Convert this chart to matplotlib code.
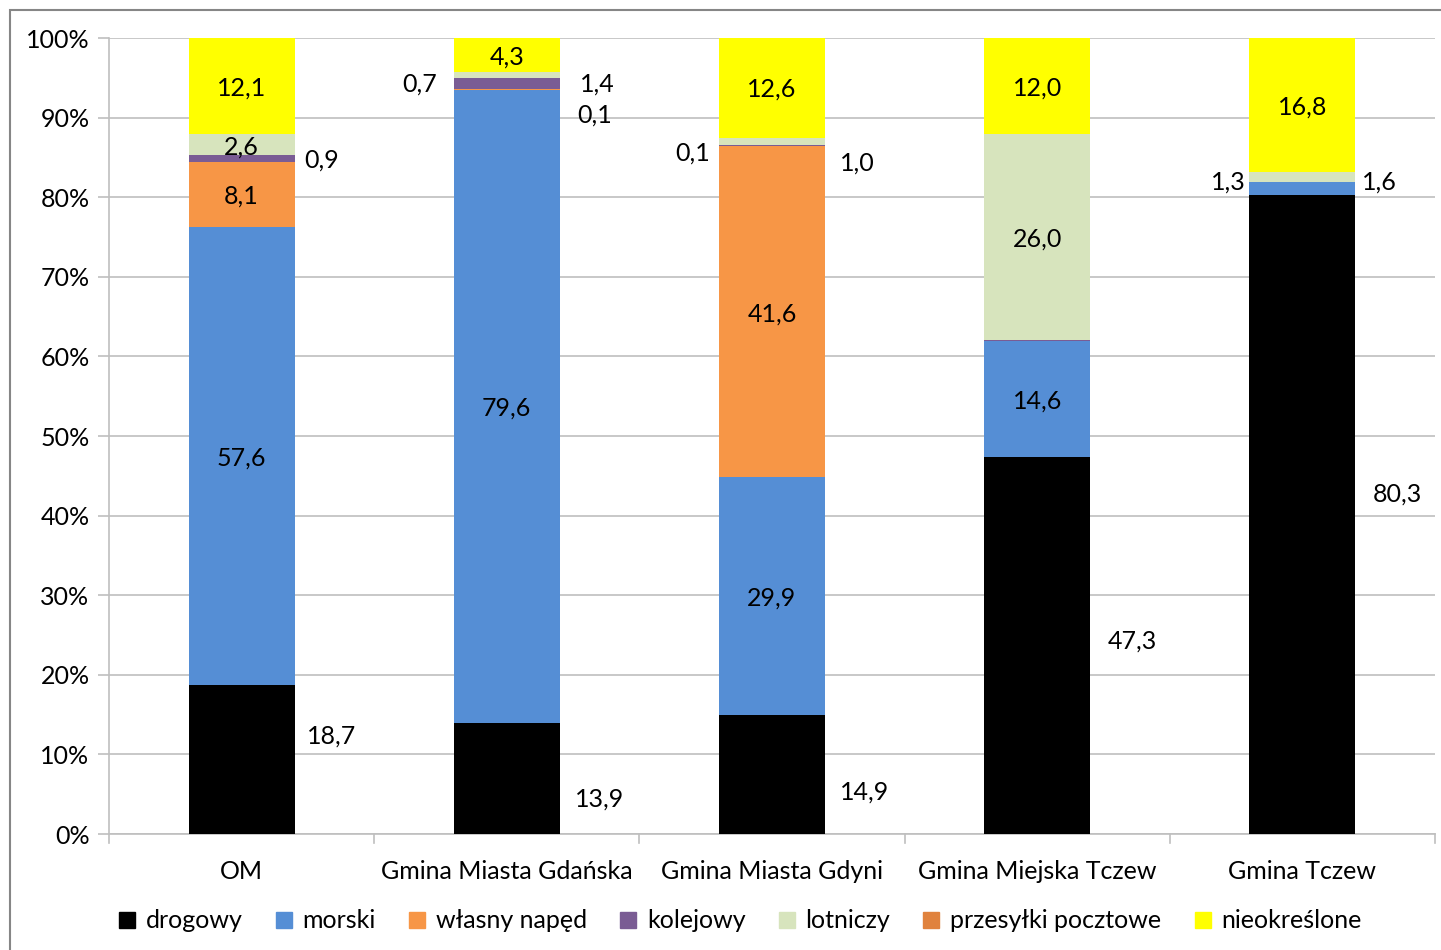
import matplotlib
matplotlib.use("Agg")
import matplotlib.pyplot as plt
import numpy as np
from matplotlib.patches import Rectangle
from matplotlib.lines import Line2D

plt.rcParams["font.family"] = ["Lato", "DejaVu Sans"]

categories = ["OM", "Gmina Miasta Gdańska", "Gmina Miasta Gdyni",
              "Gmina Miejska Tczew", "Gmina Tczew"]
series = ["drogowy", "morski", "własny napęd", "kolejowy", "lotniczy",
          "przesyłki pocztowe", "nieokreślone"]
colors = ["#000000", "#558ED5", "#F79646", "#7A5C94", "#D7E4BD",
          "#E0823D", "#FFFF00"]

# shares in % per category, one list per transport mode
drogowy = [18.7, 13.9, 14.9, 47.3, 80.3]
morski = [57.6, 79.6, 29.9, 14.6, 1.6]
wlasny_naped = [8.1, 0.1, 41.6, 0.0, 0.0]
kolejowy = [0.9, 1.4, 0.1, 0.1, 0.0]
lotniczy = [2.6, 0.7, 1.0, 26.0, 1.3]
przesylki = [0.0, 0.0, 0.0, 0.0, 0.0]
nieokreslone = [12.1, 4.3, 12.6, 12.0, 16.8]

values = np.array([drogowy, morski, wlasny_naped, kolejowy, lotniczy,
                   przesylki, nieokreslone])

# labels drawn inside the bar: (category, series)
inside = [(0, 1), (0, 2), (0, 4), (0, 6),
          (1, 1), (1, 6),
          (2, 1), (2, 2), (2, 6),
          (3, 1), (3, 4), (3, 6),
          (4, 6)]
# labels drawn beside the bar: (category, series, x offset, y in %)
beside = [(0, 0, 0.34, 12.3), (0, 3, 0.30, 84.7),
          (1, 0, 0.35, 4.4), (1, 4, -0.33, 94.2), (1, 3, 0.34, 94.2),
          (1, 2, 0.33, 90.3),
          (2, 0, 0.35, 5.3), (2, 3, -0.30, 85.6), (2, 4, 0.32, 84.3),
          (3, 0, 0.36, 24.2),
          (4, 0, 0.36, 42.7), (4, 4, -0.28, 81.9), (4, 1, 0.29, 81.9)]

FS = 18


def fmt(v):
    return f"{v:.1f}".replace(".", ",")


fig = plt.figure(figsize=(14.41, 9.5), dpi=100)
ax = fig.add_axes([109 / 1441, 1 - 834 / 950, (1435 - 109) / 1441,
                   (834 - 38) / 950])

x = np.arange(len(categories))
bottoms = np.zeros(len(categories))
for vals, color, name in zip(values, colors, series):
    ax.bar(x, vals, width=0.4, bottom=bottoms, color=color, label=name,
           zorder=3)
    bottoms = bottoms + vals

cum = np.vstack([np.zeros(len(categories)), np.cumsum(values, axis=0)])
for c, s in inside:
    y = (cum[s, c] + cum[s + 1, c]) / 2 - 0.25
    ax.text(c, y, fmt(values[s, c]), ha="center", va="center",
            fontsize=FS, zorder=4)
for c, s, dx, y in beside:
    ax.text(c + dx, y, fmt(values[s, c]), ha="center", va="center",
            fontsize=FS, zorder=4)

ax.set_xlim(-0.5, len(categories) - 0.5)
ax.set_ylim(0, 100)
ax.set_yticks(np.arange(0, 101, 10))
ax.set_yticklabels([f"{t}%" for t in range(0, 101, 10)], fontsize=FS)
ax.yaxis.grid(True, color="#BFBFBF", linewidth=1.2, zorder=0)
ax.set_xticks(x)
ax.set_xticklabels(categories, fontsize=FS)
ax.tick_params(axis="x", length=0, pad=19)
ax.tick_params(axis="y", length=8, color="#BFBFBF", width=1.2, pad=6)
for b in np.arange(-0.5, len(categories), 1.0):
    ax.plot([b, b], [0, -1.1], color="#BFBFBF", linewidth=1.2,
            clip_on=False, zorder=2)
for side in ["top", "right"]:
    ax.spines[side].set_visible(False)
for side in ["left", "bottom"]:
    ax.spines[side].set_color("#BFBFBF")
    ax.spines[side].set_linewidth(1.2)

handles = [Line2D([], [], marker="s", linestyle="none", markersize=11,
                  markerfacecolor=c, markeredgecolor=c) for c in colors]
fig.legend(handles, series, loc="center", ncol=7,
           bbox_to_anchor=(0.513, 1 - 921 / 950), frameon=False, fontsize=FS,
           handletextpad=0.35, columnspacing=1.25, handlelength=0.8)

fig.patches.append(Rectangle((10 / 1441, -0.05), 1.1, 1.05 - 10 / 950,
                             transform=fig.transFigure, fill=False,
                             edgecolor="#868686", linewidth=1.5))

fig.savefig("out.png", dpi=100)
